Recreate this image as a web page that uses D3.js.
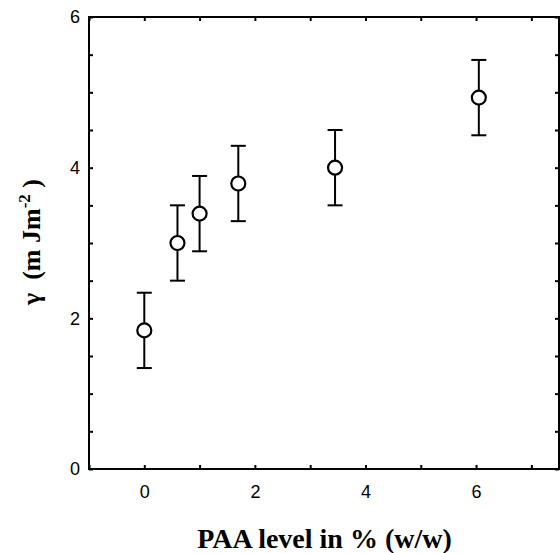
<!DOCTYPE html>
<html>
<head>
<meta charset="utf-8">
<script src="https://cdn.jsdelivr.net/npm/d3@7"></script>
<style>
    body { margin: 0; background: #fff; }
    .axis path, .axis line { stroke: #000; }
</style>
</head>
<body>
<svg id="canvas"></svg>
<script>
// PAA level (x) vs surface energy gamma (y), with symmetric error bars
var paaLevel = [0, 0.6, 1.0, 1.7, 3.45, 6.05];
var gamma = [1.84, 3.0, 3.39, 3.79, 4.0, 4.93];
var gammaErr = [0.5, 0.5, 0.5, 0.5, 0.5, 0.5];

var xTicks = [0, 2, 4, 6];
var yTicks = [0, 2, 4, 6];
var xMinorTicks = [-1, 0, 1, 2, 3, 4, 5, 6, 7];
var yMinorTicks = [0, 0.5, 1, 1.5, 2, 2.5, 3, 3.5, 4, 4.5, 5, 5.5, 6];

var width = 560, height = 553;
var margin = {top: 17, right: 1, bottom: 84, left: 89};
var innerW = width - margin.left - margin.right,
    innerH = height - margin.top - margin.bottom;

var x = d3.scaleLinear().domain([-1, 7.5]).range([0, innerW]);
var y = d3.scaleLinear().domain([0, 6]).range([innerH, 0]);

var svg = d3.select("#canvas")
    .attr("width", width)
    .attr("height", height)
    .append("g")
    .attr("transform", "translate(" + margin.left + "," + margin.top + ")");

// frame
svg.append("rect")
    .attr("x", 0)
    .attr("y", 0)
    .attr("width", innerW)
    .attr("height", innerH)
    .attr("fill", "none")
    .attr("stroke", "#000")
    .attr("stroke-width", 2);

// inward minor ticks on all four sides
function minor(axis, vals) {
    return axis.tickValues(vals).tickSize(-4).tickFormat("");
}
svg.append("g").attr("class", "axis")
    .attr("transform", "translate(0," + innerH + ")")
    .call(minor(d3.axisBottom(x), xMinorTicks));
svg.append("g").attr("class", "axis")
    .call(minor(d3.axisTop(x), xMinorTicks));
svg.append("g").attr("class", "axis")
    .call(minor(d3.axisLeft(y), yMinorTicks));
svg.append("g").attr("class", "axis")
    .attr("transform", "translate(" + innerW + ",0)")
    .call(minor(d3.axisRight(y), yMinorTicks));
svg.selectAll(".axis path").remove();
svg.selectAll(".axis line").attr("stroke-width", 2);

// tick labels
var xAxis = svg.append("g")
    .attr("transform", "translate(0," + innerH + ")")
    .call(d3.axisBottom(x).tickValues(xTicks).tickSize(0).tickPadding(16).tickFormat(d3.format("d")));
var yAxis = svg.append("g")
    .call(d3.axisLeft(y).tickValues(yTicks).tickSize(0).tickPadding(9).tickFormat(d3.format("d")));
[xAxis, yAxis].forEach(function(g) {
    g.select(".domain").remove();
    g.selectAll("text")
        .style("font-family", "'Liberation Sans', Arial, sans-serif")
        .style("font-size", "18px")
        .attr("fill", "#000");
});

// error bars
var capW = 7.5;
var bars = svg.selectAll(".err")
    .data(paaLevel)
    .enter()
    .append("g")
    .attr("class", "err")
    .attr("stroke", "#000")
    .attr("stroke-width", 2);
bars.append("line")
    .attr("x1", function(d) { return x(d); })
    .attr("x2", function(d) { return x(d); })
    .attr("y1", function(d, i) { return y(gamma[i] - gammaErr[i]); })
    .attr("y2", function(d, i) { return y(gamma[i] + gammaErr[i]); });
bars.append("line")
    .attr("x1", function(d) { return x(d) - capW; })
    .attr("x2", function(d) { return x(d) + capW; })
    .attr("y1", function(d, i) { return y(gamma[i] + gammaErr[i]); })
    .attr("y2", function(d, i) { return y(gamma[i] + gammaErr[i]); });
bars.append("line")
    .attr("x1", function(d) { return x(d) - capW; })
    .attr("x2", function(d) { return x(d) + capW; })
    .attr("y1", function(d, i) { return y(gamma[i] - gammaErr[i]); })
    .attr("y2", function(d, i) { return y(gamma[i] - gammaErr[i]); });

// open circle markers
svg.selectAll(".pt")
    .data(paaLevel)
    .enter()
    .append("circle")
    .attr("class", "pt")
    .attr("cx", function(d) { return x(d); })
    .attr("cy", function(d, i) { return y(gamma[i]); })
    .attr("r", 7)
    .attr("fill", "#fff")
    .attr("stroke", "#000")
    .attr("stroke-width", 2.2);

// axis titles
svg.append("text")
    .attr("x", innerW / 2 + 0.5)
    .attr("y", innerH + 79)
    .attr("text-anchor", "middle")
    .style("font-family", "'Liberation Serif', 'Times New Roman', serif")
    .style("font-weight", "bold")
    .style("font-size", "28px")
    .text("PAA level in % (w/w)");

var yTitle = svg.append("text")
    .attr("transform", "translate(" + (-49) + "," + 225 + ") rotate(-90)")
    .attr("text-anchor", "middle")
    .style("white-space", "pre")
    .style("font-family", "'Liberation Serif', 'Times New Roman', serif")
    .style("font-weight", "bold")
    .style("font-size", "26px");
yTitle.append("tspan").text("\u03b3  (m Jm");
yTitle.append("tspan").attr("dy", -10).style("font-size", "17px").text("-2");
yTitle.append("tspan").attr("dy", 10).text(" )");
</script>
</body>
</html>
